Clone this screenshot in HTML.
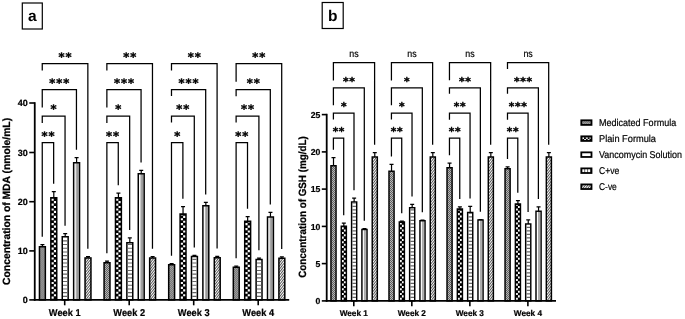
<!DOCTYPE html>
<html lang="en"><head><meta charset="utf-8"><title>Figure</title>
<style>html,body{margin:0;padding:0;background:#fff}svg{display:block;text-rendering:geometricPrecision}</style>
</head><body>
<svg width="685" height="319" viewBox="0 0 685 319">
<defs>
<pattern id="p1" width="2" height="2" patternUnits="userSpaceOnUse"><rect width="2" height="2" fill="#c4c4c4"/><rect width="1" height="1" fill="#505050"/><rect x="1" y="1" width="1" height="1" fill="#505050"/></pattern>
<pattern id="p2" x="0.55" width="4.7" height="4.9" patternUnits="userSpaceOnUse"><rect width="4.7" height="4.9" fill="#000"/><rect x="0.1" y="0.1" width="2.25" height="2.3" fill="#fff"/><rect x="2.45" y="2.55" width="2.25" height="2.3" fill="#fff"/></pattern>
<pattern id="p2b" x="0.7" width="3.9" height="4.7" patternUnits="userSpaceOnUse"><rect width="3.9" height="4.7" fill="#000"/><rect x="0.1" y="0.1" width="1.8" height="2.2" fill="#fff"/><rect x="2.05" y="2.45" width="1.8" height="2.2" fill="#fff"/></pattern>
<pattern id="p3" width="12" height="3.6" patternUnits="userSpaceOnUse"><rect width="12" height="3.6" fill="#fff"/><rect y="2.3" width="12" height="1.25" fill="#777"/></pattern>
<pattern id="p4a" width="40" height="8" patternUnits="userSpaceOnUse"><rect width="40" height="8" fill="#fff"/><rect x="2.3" width="2.8" height="8" fill="#999"/></pattern>
<pattern id="p4b" width="40" height="8" patternUnits="userSpaceOnUse"><rect width="40" height="8" fill="#fff"/><rect x="2" width="0.7" height="8" fill="#888"/><rect x="3.3" width="0.7" height="8" fill="#888"/></pattern>
<pattern id="p5" width="1.9" height="1.9" patternUnits="userSpaceOnUse" patternTransform="rotate(-52)"><rect width="1.9" height="1.9" fill="#fff"/><rect width="1.9" height="0.9" fill="#4a4a4a"/></pattern>
<pattern id="p2l" x="1.05" y="-4.5" width="3.6" height="3.4" patternUnits="userSpaceOnUse"><rect width="3.6" height="3.4" fill="#000"/><rect x="0.2" y="0" width="1.6" height="1.7" fill="#fff"/><rect x="2" y="1.7" width="1.6" height="1.7" fill="#fff"/></pattern>
<pattern id="p3l" width="20" height="10" patternUnits="userSpaceOnUse"><rect width="20" height="10" fill="#fff"/></pattern>
<pattern id="p4l" x="1.1" width="2.9" height="10" patternUnits="userSpaceOnUse"><rect width="2.9" height="10" fill="#fff"/><rect x="2.1" width="0.8" height="10" fill="#444"/></pattern>
</defs>
<rect width="685" height="319" fill="#fff"/>
<path d="M42.4 247V244.6M40.4 244.6H44.4" stroke="#000" stroke-width="1.2" fill="none"/>
<g transform="translate(39.45 299.9)"><rect x="0" y="-53.15" width="5.9" height="53.15" fill="url(#p1)" stroke="#000" stroke-width="1.5"/></g>
<path d="M53.8 198V191.6M51.8 191.6H55.8" stroke="#000" stroke-width="1.2" fill="none"/>
<rect x="50.85" y="197.75" width="5.9" height="102.15" fill="#000" stroke="#000" stroke-width="1.5"/>
<path d="M52.65 298.9V198.7" stroke="#fff" stroke-width="2.1" stroke-dasharray="2.15 2.75" stroke-dashoffset="-0.15" fill="none"/>
<path d="M54.95 298.9V198.7" stroke="#fff" stroke-width="2.1" stroke-dasharray="2.15 2.75" stroke-dashoffset="2.3" fill="none"/>
<path d="M65.2 237V233.6M63.2 233.6H67.2" stroke="#000" stroke-width="1.2" fill="none"/>
<rect x="62.25" y="236.75" width="5.9" height="63.15" fill="#fff" stroke="#000" stroke-width="1.5"/>
<path d="M65.2 298.9V237.5" stroke="#666" stroke-width="4.4" stroke-dasharray="1.1 2.6" stroke-dashoffset="-2" fill="none"/>
<path d="M76.6 163V157.6M74.6 157.6H78.6" stroke="#000" stroke-width="1.2" fill="none"/>
<g transform="translate(73.65 299.9)"><rect x="0" y="-137.15" width="5.9" height="137.15" fill="url(#p4a)" stroke="#000" stroke-width="1.5"/></g>
<path d="M88 258.2V256.6M86 256.6H90" stroke="#000" stroke-width="1.2" fill="none"/>
<g transform="translate(85.05 299.9)"><rect x="0" y="-41.95" width="5.9" height="41.95" fill="url(#p5)" stroke="#000" stroke-width="1.5"/></g>
<path d="M107.02 263V261.1M105.02 261.1H109.02" stroke="#000" stroke-width="1.2" fill="none"/>
<g transform="translate(104.07 299.9)"><rect x="0" y="-37.15" width="5.9" height="37.15" fill="url(#p1)" stroke="#000" stroke-width="1.5"/></g>
<path d="M118.42 198V193.1M116.42 193.1H120.42" stroke="#000" stroke-width="1.2" fill="none"/>
<rect x="115.47" y="197.75" width="5.9" height="102.15" fill="#000" stroke="#000" stroke-width="1.5"/>
<path d="M117.27 298.9V198.7" stroke="#fff" stroke-width="2.1" stroke-dasharray="2.15 2.75" stroke-dashoffset="-0.15" fill="none"/>
<path d="M119.57 298.9V198.7" stroke="#fff" stroke-width="2.1" stroke-dasharray="2.15 2.75" stroke-dashoffset="2.3" fill="none"/>
<path d="M129.82 243V237.85M127.82 237.85H131.82" stroke="#000" stroke-width="1.2" fill="none"/>
<rect x="126.87" y="242.75" width="5.9" height="57.15" fill="#fff" stroke="#000" stroke-width="1.5"/>
<path d="M129.82 298.9V243.5" stroke="#666" stroke-width="4.4" stroke-dasharray="1.1 2.6" stroke-dashoffset="-2" fill="none"/>
<path d="M141.22 174V170.35M139.22 170.35H143.22" stroke="#000" stroke-width="1.2" fill="none"/>
<g transform="translate(138.27 299.9)"><rect x="0" y="-126.15" width="5.9" height="126.15" fill="url(#p4a)" stroke="#000" stroke-width="1.5"/></g>
<path d="M152.62 258.25V256.6M150.62 256.6H154.62" stroke="#000" stroke-width="1.2" fill="none"/>
<g transform="translate(149.67 299.9)"><rect x="0" y="-41.9" width="5.9" height="41.9" fill="url(#p5)" stroke="#000" stroke-width="1.5"/></g>
<path d="M171.64 265V263.6M169.64 263.6H173.64" stroke="#000" stroke-width="1.2" fill="none"/>
<g transform="translate(168.69 299.9)"><rect x="0" y="-35.15" width="5.9" height="35.15" fill="url(#p1)" stroke="#000" stroke-width="1.5"/></g>
<path d="M183.04 214.25V206.6M181.04 206.6H185.04" stroke="#000" stroke-width="1.2" fill="none"/>
<rect x="180.09" y="214" width="5.9" height="85.9" fill="#000" stroke="#000" stroke-width="1.5"/>
<path d="M181.89 298.9V214.95" stroke="#fff" stroke-width="2.1" stroke-dasharray="2.15 2.75" stroke-dashoffset="-0.15" fill="none"/>
<path d="M184.19 298.9V214.95" stroke="#fff" stroke-width="2.1" stroke-dasharray="2.15 2.75" stroke-dashoffset="2.3" fill="none"/>
<path d="M194.44 256.75V255.35M192.44 255.35H196.44" stroke="#000" stroke-width="1.2" fill="none"/>
<rect x="191.49" y="256.5" width="5.9" height="43.4" fill="#fff" stroke="#000" stroke-width="1.5"/>
<path d="M194.44 298.9V257.25" stroke="#666" stroke-width="4.4" stroke-dasharray="1.1 2.6" stroke-dashoffset="-2" fill="none"/>
<path d="M205.84 206V202.35M203.84 202.35H207.84" stroke="#000" stroke-width="1.2" fill="none"/>
<g transform="translate(202.89 299.9)"><rect x="0" y="-94.15" width="5.9" height="94.15" fill="url(#p4a)" stroke="#000" stroke-width="1.5"/></g>
<path d="M217.24 258V256.35M215.24 256.35H219.24" stroke="#000" stroke-width="1.2" fill="none"/>
<g transform="translate(214.29 299.9)"><rect x="0" y="-42.15" width="5.9" height="42.15" fill="url(#p5)" stroke="#000" stroke-width="1.5"/></g>
<path d="M236.26 267.5V266.1M234.26 266.1H238.26" stroke="#000" stroke-width="1.2" fill="none"/>
<g transform="translate(233.31 299.9)"><rect x="0" y="-32.65" width="5.9" height="32.65" fill="url(#p1)" stroke="#000" stroke-width="1.5"/></g>
<path d="M247.66 221.5V216.6M245.66 216.6H249.66" stroke="#000" stroke-width="1.2" fill="none"/>
<rect x="244.71" y="221.25" width="5.9" height="78.65" fill="#000" stroke="#000" stroke-width="1.5"/>
<path d="M246.51 298.9V222.2" stroke="#fff" stroke-width="2.1" stroke-dasharray="2.15 2.75" stroke-dashoffset="-0.15" fill="none"/>
<path d="M248.81 298.9V222.2" stroke="#fff" stroke-width="2.1" stroke-dasharray="2.15 2.75" stroke-dashoffset="2.3" fill="none"/>
<path d="M259.06 259.75V258.1M257.06 258.1H261.06" stroke="#000" stroke-width="1.2" fill="none"/>
<rect x="256.11" y="259.5" width="5.9" height="40.4" fill="#fff" stroke="#000" stroke-width="1.5"/>
<path d="M259.06 298.9V260.25" stroke="#666" stroke-width="4.4" stroke-dasharray="1.1 2.6" stroke-dashoffset="-2" fill="none"/>
<path d="M270.46 217.25V212.35M268.46 212.35H272.46" stroke="#000" stroke-width="1.2" fill="none"/>
<g transform="translate(267.51 299.9)"><rect x="0" y="-82.9" width="5.9" height="82.9" fill="url(#p4a)" stroke="#000" stroke-width="1.5"/></g>
<path d="M281.86 258.5V256.8M279.86 256.8H283.86" stroke="#000" stroke-width="1.2" fill="none"/>
<g transform="translate(278.91 299.9)"><rect x="0" y="-41.65" width="5.9" height="41.65" fill="url(#p5)" stroke="#000" stroke-width="1.5"/></g>
<path d="M42.25 70.5V63.5H87.85V248.7" stroke="#000" stroke-width="1.25" fill="none"/>
<text x="65.52" y="60.6" text-anchor="middle" font-family="'DejaVu Sans', sans-serif" font-weight="bold" font-size="11.6" letter-spacing="0.95" stroke="#000" stroke-width="0.4">**</text>
<path d="M42.25 107.5V89.7H76.45V149.7" stroke="#000" stroke-width="1.25" fill="none"/>
<text x="59.83" y="86.8" text-anchor="middle" font-family="'DejaVu Sans', sans-serif" font-weight="bold" font-size="11.6" letter-spacing="0.95" stroke="#000" stroke-width="0.4">***</text>
<path d="M42.25 123V116.2H65.05V225.7" stroke="#000" stroke-width="1.25" fill="none"/>
<text x="54.12" y="113.3" text-anchor="middle" font-family="'DejaVu Sans', sans-serif" font-weight="bold" font-size="11.6" letter-spacing="0.95" stroke="#000" stroke-width="0.4">*</text>
<path d="M42.25 236.7V142.5H53.65V183.7" stroke="#000" stroke-width="1.25" fill="none"/>
<text x="48.43" y="139.6" text-anchor="middle" font-family="'DejaVu Sans', sans-serif" font-weight="bold" font-size="11.6" letter-spacing="0.95" stroke="#000" stroke-width="0.4">**</text>
<path d="M106.87 70.5V63.5H152.47V248.7" stroke="#000" stroke-width="1.25" fill="none"/>
<text x="130.15" y="60.6" text-anchor="middle" font-family="'DejaVu Sans', sans-serif" font-weight="bold" font-size="11.6" letter-spacing="0.95" stroke="#000" stroke-width="0.4">**</text>
<path d="M106.87 107.5V89.7H141.07V162.45" stroke="#000" stroke-width="1.25" fill="none"/>
<text x="124.44" y="86.8" text-anchor="middle" font-family="'DejaVu Sans', sans-serif" font-weight="bold" font-size="11.6" letter-spacing="0.95" stroke="#000" stroke-width="0.4">***</text>
<path d="M106.87 123V116.2H129.67V229.95" stroke="#000" stroke-width="1.25" fill="none"/>
<text x="118.75" y="113.3" text-anchor="middle" font-family="'DejaVu Sans', sans-serif" font-weight="bold" font-size="11.6" letter-spacing="0.95" stroke="#000" stroke-width="0.4">*</text>
<path d="M106.87 253.2V142.5H118.27V185.2" stroke="#000" stroke-width="1.25" fill="none"/>
<text x="113.05" y="139.6" text-anchor="middle" font-family="'DejaVu Sans', sans-serif" font-weight="bold" font-size="11.6" letter-spacing="0.95" stroke="#000" stroke-width="0.4">**</text>
<path d="M171.49 70.5V63.5H217.09V248.45" stroke="#000" stroke-width="1.25" fill="none"/>
<text x="194.77" y="60.6" text-anchor="middle" font-family="'DejaVu Sans', sans-serif" font-weight="bold" font-size="11.6" letter-spacing="0.95" stroke="#000" stroke-width="0.4">**</text>
<path d="M171.49 96V89.7H205.69V194.45" stroke="#000" stroke-width="1.25" fill="none"/>
<text x="189.06" y="86.8" text-anchor="middle" font-family="'DejaVu Sans', sans-serif" font-weight="bold" font-size="11.6" letter-spacing="0.95" stroke="#000" stroke-width="0.4">***</text>
<path d="M171.49 122.5V116.2H194.29V247.45" stroke="#000" stroke-width="1.25" fill="none"/>
<text x="183.37" y="113.3" text-anchor="middle" font-family="'DejaVu Sans', sans-serif" font-weight="bold" font-size="11.6" letter-spacing="0.95" stroke="#000" stroke-width="0.4">**</text>
<path d="M171.49 255.7V142.5H182.89V198.7" stroke="#000" stroke-width="1.25" fill="none"/>
<text x="177.66" y="139.6" text-anchor="middle" font-family="'DejaVu Sans', sans-serif" font-weight="bold" font-size="11.6" letter-spacing="0.95" stroke="#000" stroke-width="0.4">*</text>
<path d="M236.11 81.8V63.5H281.71V248.9" stroke="#000" stroke-width="1.25" fill="none"/>
<text x="259.39" y="60.6" text-anchor="middle" font-family="'DejaVu Sans', sans-serif" font-weight="bold" font-size="11.6" letter-spacing="0.95" stroke="#000" stroke-width="0.4">**</text>
<path d="M236.11 96.25V89.7H270.31V204.45" stroke="#000" stroke-width="1.25" fill="none"/>
<text x="253.69" y="86.8" text-anchor="middle" font-family="'DejaVu Sans', sans-serif" font-weight="bold" font-size="11.6" letter-spacing="0.95" stroke="#000" stroke-width="0.4">**</text>
<path d="M236.11 122.5V116.2H258.91V250.2" stroke="#000" stroke-width="1.25" fill="none"/>
<text x="247.99" y="113.3" text-anchor="middle" font-family="'DejaVu Sans', sans-serif" font-weight="bold" font-size="11.6" letter-spacing="0.95" stroke="#000" stroke-width="0.4">**</text>
<path d="M236.11 258.2V142.5H247.51V208.7" stroke="#000" stroke-width="1.25" fill="none"/>
<text x="242.28" y="139.6" text-anchor="middle" font-family="'DejaVu Sans', sans-serif" font-weight="bold" font-size="11.6" letter-spacing="0.95" stroke="#000" stroke-width="0.4">**</text>
<path d="M333.5 166V157.6M331.5 157.6H335.5" stroke="#000" stroke-width="1.2" fill="none"/>
<g transform="translate(330.95 300.9)"><rect x="0" y="-135.17" width="5.1" height="135.17" fill="url(#p1)" stroke="#000" stroke-width="1.45"/></g>
<path d="M343.82 226.5V223.1M341.82 223.1H345.82" stroke="#000" stroke-width="1.2" fill="none"/>
<rect x="341.27" y="226.22" width="5.1" height="74.67" fill="#000" stroke="#000" stroke-width="1.45"/>
<path d="M342.86 299.9V227.15" stroke="#fff" stroke-width="1.72" stroke-dasharray="2.05 2.65" stroke-dashoffset="-0.15" fill="none"/>
<path d="M344.78 299.9V227.15" stroke="#fff" stroke-width="1.72" stroke-dasharray="2.05 2.65" stroke-dashoffset="2.2" fill="none"/>
<path d="M354.14 202.25V198.1M352.14 198.1H356.14" stroke="#000" stroke-width="1.2" fill="none"/>
<rect x="351.59" y="201.97" width="5.1" height="98.92" fill="#fff" stroke="#000" stroke-width="1.45"/>
<path d="M354.14 299.9V202.7" stroke="#666" stroke-width="3.65" stroke-dasharray="1.1 2.4" stroke-dashoffset="-2" fill="none"/>
<path d="M364.46 229.75V228.6M362.46 228.6H366.46" stroke="#000" stroke-width="1.2" fill="none"/>
<g transform="translate(361.91 300.9)"><rect x="0" y="-71.42" width="5.1" height="71.42" fill="url(#p4b)" stroke="#000" stroke-width="1.45"/></g>
<path d="M374.78 157.25V152.6M372.78 152.6H376.78" stroke="#000" stroke-width="1.2" fill="none"/>
<g transform="translate(372.23 300.9)"><rect x="0" y="-143.92" width="5.1" height="143.92" fill="url(#p5)" stroke="#000" stroke-width="1.45"/></g>
<path d="M391.53 171.5V164.35M389.53 164.35H393.53" stroke="#000" stroke-width="1.2" fill="none"/>
<g transform="translate(388.98 300.9)"><rect x="0" y="-129.67" width="5.1" height="129.67" fill="url(#p1)" stroke="#000" stroke-width="1.45"/></g>
<path d="M401.85 222.25V221.1M399.85 221.1H403.85" stroke="#000" stroke-width="1.2" fill="none"/>
<rect x="399.3" y="221.97" width="5.1" height="78.92" fill="#000" stroke="#000" stroke-width="1.45"/>
<path d="M400.89 299.9V222.9" stroke="#fff" stroke-width="1.72" stroke-dasharray="2.05 2.65" stroke-dashoffset="-0.15" fill="none"/>
<path d="M402.81 299.9V222.9" stroke="#fff" stroke-width="1.72" stroke-dasharray="2.05 2.65" stroke-dashoffset="2.2" fill="none"/>
<path d="M412.17 208V204.35M410.17 204.35H414.17" stroke="#000" stroke-width="1.2" fill="none"/>
<rect x="409.62" y="207.72" width="5.1" height="93.17" fill="#fff" stroke="#000" stroke-width="1.45"/>
<path d="M412.17 299.9V208.45" stroke="#666" stroke-width="3.65" stroke-dasharray="1.1 2.4" stroke-dashoffset="-2" fill="none"/>
<path d="M422.49 221V220.1M420.49 220.1H424.49" stroke="#000" stroke-width="1.2" fill="none"/>
<g transform="translate(419.94 300.9)"><rect x="0" y="-80.17" width="5.1" height="80.17" fill="url(#p4b)" stroke="#000" stroke-width="1.45"/></g>
<path d="M432.81 157.25V152.6M430.81 152.6H434.81" stroke="#000" stroke-width="1.2" fill="none"/>
<g transform="translate(430.26 300.9)"><rect x="0" y="-143.92" width="5.1" height="143.92" fill="url(#p5)" stroke="#000" stroke-width="1.45"/></g>
<path d="M449.56 168V163.1M447.56 163.1H451.56" stroke="#000" stroke-width="1.2" fill="none"/>
<g transform="translate(447.01 300.9)"><rect x="0" y="-133.17" width="5.1" height="133.17" fill="url(#p1)" stroke="#000" stroke-width="1.45"/></g>
<path d="M459.88 209.25V206.85M457.88 206.85H461.88" stroke="#000" stroke-width="1.2" fill="none"/>
<rect x="457.33" y="208.97" width="5.1" height="91.92" fill="#000" stroke="#000" stroke-width="1.45"/>
<path d="M458.92 299.9V209.9" stroke="#fff" stroke-width="1.72" stroke-dasharray="2.05 2.65" stroke-dashoffset="-0.15" fill="none"/>
<path d="M460.84 299.9V209.9" stroke="#fff" stroke-width="1.72" stroke-dasharray="2.05 2.65" stroke-dashoffset="2.2" fill="none"/>
<path d="M470.2 212.75V206.35M468.2 206.35H472.2" stroke="#000" stroke-width="1.2" fill="none"/>
<rect x="467.65" y="212.47" width="5.1" height="88.42" fill="#fff" stroke="#000" stroke-width="1.45"/>
<path d="M470.2 299.9V213.2" stroke="#666" stroke-width="3.65" stroke-dasharray="1.1 2.4" stroke-dashoffset="-2" fill="none"/>
<path d="M480.52 220.25V219.6M478.52 219.6H482.52" stroke="#000" stroke-width="1.2" fill="none"/>
<g transform="translate(477.97 300.9)"><rect x="0" y="-80.92" width="5.1" height="80.92" fill="url(#p4b)" stroke="#000" stroke-width="1.45"/></g>
<path d="M490.84 157.25V152.6M488.84 152.6H492.84" stroke="#000" stroke-width="1.2" fill="none"/>
<g transform="translate(488.29 300.9)"><rect x="0" y="-143.92" width="5.1" height="143.92" fill="url(#p5)" stroke="#000" stroke-width="1.45"/></g>
<path d="M507.59 169V166.85M505.59 166.85H509.59" stroke="#000" stroke-width="1.2" fill="none"/>
<g transform="translate(505.04 300.9)"><rect x="0" y="-132.17" width="5.1" height="132.17" fill="url(#p1)" stroke="#000" stroke-width="1.45"/></g>
<path d="M517.91 204.25V200.6M515.91 200.6H519.91" stroke="#000" stroke-width="1.2" fill="none"/>
<rect x="515.36" y="203.97" width="5.1" height="96.92" fill="#000" stroke="#000" stroke-width="1.45"/>
<path d="M516.95 299.9V204.9" stroke="#fff" stroke-width="1.72" stroke-dasharray="2.05 2.65" stroke-dashoffset="-0.15" fill="none"/>
<path d="M518.87 299.9V204.9" stroke="#fff" stroke-width="1.72" stroke-dasharray="2.05 2.65" stroke-dashoffset="2.2" fill="none"/>
<path d="M528.23 224.25V219.85M526.23 219.85H530.23" stroke="#000" stroke-width="1.2" fill="none"/>
<rect x="525.68" y="223.97" width="5.1" height="76.92" fill="#fff" stroke="#000" stroke-width="1.45"/>
<path d="M528.23 299.9V224.7" stroke="#666" stroke-width="3.65" stroke-dasharray="1.1 2.4" stroke-dashoffset="-2" fill="none"/>
<path d="M538.55 211.5V206.85M536.55 206.85H540.55" stroke="#000" stroke-width="1.2" fill="none"/>
<g transform="translate(536 300.9)"><rect x="0" y="-89.67" width="5.1" height="89.67" fill="url(#p4b)" stroke="#000" stroke-width="1.45"/></g>
<path d="M548.87 157.25V152.6M546.87 152.6H550.87" stroke="#000" stroke-width="1.2" fill="none"/>
<g transform="translate(546.32 300.9)"><rect x="0" y="-143.92" width="5.1" height="143.92" fill="url(#p5)" stroke="#000" stroke-width="1.45"/></g>
<path d="M333.4 80.4V62.7H374.6V144.7" stroke="#000" stroke-width="1.25" fill="none"/>
<text x="354" y="56.6" text-anchor="middle" font-family="'Liberation Sans', Arial, sans-serif" font-size="9.9" textLength="9.4" lengthAdjust="spacingAndGlyphs" stroke="#000" stroke-width="0.2">ns</text>
<path d="M333.4 105.25V87.8H364.3V220.7" stroke="#000" stroke-width="1.25" fill="none"/>
<text x="349.17" y="84.8" text-anchor="middle" font-family="'DejaVu Sans', sans-serif" font-weight="bold" font-size="10.7" letter-spacing="0.65" stroke="#000" stroke-width="0.4">**</text>
<path d="M333.4 119.6V113H354V190.2" stroke="#000" stroke-width="1.25" fill="none"/>
<text x="344.02" y="110" text-anchor="middle" font-family="'DejaVu Sans', sans-serif" font-weight="bold" font-size="10.7" letter-spacing="0.65" stroke="#000" stroke-width="0.4">*</text>
<path d="M333.4 149.7V138.1H343.7V215.2" stroke="#000" stroke-width="1.25" fill="none"/>
<text x="338.87" y="135.1" text-anchor="middle" font-family="'DejaVu Sans', sans-serif" font-weight="bold" font-size="10.7" letter-spacing="0.65" stroke="#000" stroke-width="0.4">**</text>
<path d="M391.43 80.4V62.7H432.63V144.7" stroke="#000" stroke-width="1.25" fill="none"/>
<text x="412.03" y="56.6" text-anchor="middle" font-family="'Liberation Sans', Arial, sans-serif" font-size="9.9" textLength="9.4" lengthAdjust="spacingAndGlyphs" stroke="#000" stroke-width="0.2">ns</text>
<path d="M391.43 105.25V87.8H422.33V212.2" stroke="#000" stroke-width="1.25" fill="none"/>
<text x="407.2" y="84.8" text-anchor="middle" font-family="'DejaVu Sans', sans-serif" font-weight="bold" font-size="10.7" letter-spacing="0.65" stroke="#000" stroke-width="0.4">*</text>
<path d="M391.43 119.6V113H412.03V196.45" stroke="#000" stroke-width="1.25" fill="none"/>
<text x="402.05" y="110" text-anchor="middle" font-family="'DejaVu Sans', sans-serif" font-weight="bold" font-size="10.7" letter-spacing="0.65" stroke="#000" stroke-width="0.4">*</text>
<path d="M391.43 156.45V138.1H401.73V213.2" stroke="#000" stroke-width="1.25" fill="none"/>
<text x="396.9" y="135.1" text-anchor="middle" font-family="'DejaVu Sans', sans-serif" font-weight="bold" font-size="10.7" letter-spacing="0.65" stroke="#000" stroke-width="0.4">**</text>
<path d="M449.46 80.2V62.7H490.66V144.7" stroke="#000" stroke-width="1.25" fill="none"/>
<text x="470.06" y="56.6" text-anchor="middle" font-family="'Liberation Sans', Arial, sans-serif" font-size="9.9" textLength="9.4" lengthAdjust="spacingAndGlyphs" stroke="#000" stroke-width="0.2">ns</text>
<path d="M449.46 93.75V87.8H480.36V211.7" stroke="#000" stroke-width="1.25" fill="none"/>
<text x="465.23" y="84.8" text-anchor="middle" font-family="'DejaVu Sans', sans-serif" font-weight="bold" font-size="10.7" letter-spacing="0.65" stroke="#000" stroke-width="0.4">**</text>
<path d="M449.46 119.8V113H470.06V198.45" stroke="#000" stroke-width="1.25" fill="none"/>
<text x="460.08" y="110" text-anchor="middle" font-family="'DejaVu Sans', sans-serif" font-weight="bold" font-size="10.7" letter-spacing="0.65" stroke="#000" stroke-width="0.4">**</text>
<path d="M449.46 155.2V138.1H459.76V198.95" stroke="#000" stroke-width="1.25" fill="none"/>
<text x="454.94" y="135.1" text-anchor="middle" font-family="'DejaVu Sans', sans-serif" font-weight="bold" font-size="10.7" letter-spacing="0.65" stroke="#000" stroke-width="0.4">**</text>
<path d="M507.49 68.9V62.7H548.69V144.7" stroke="#000" stroke-width="1.25" fill="none"/>
<text x="528.09" y="56.6" text-anchor="middle" font-family="'Liberation Sans', Arial, sans-serif" font-size="9.9" textLength="9.4" lengthAdjust="spacingAndGlyphs" stroke="#000" stroke-width="0.2">ns</text>
<path d="M507.49 93.75V87.8H538.39V198.95" stroke="#000" stroke-width="1.25" fill="none"/>
<text x="523.27" y="84.8" text-anchor="middle" font-family="'DejaVu Sans', sans-serif" font-weight="bold" font-size="10.7" letter-spacing="0.65" stroke="#000" stroke-width="0.4">***</text>
<path d="M507.49 119.8V113H528.09V211.95" stroke="#000" stroke-width="1.25" fill="none"/>
<text x="518.12" y="110" text-anchor="middle" font-family="'DejaVu Sans', sans-serif" font-weight="bold" font-size="10.7" letter-spacing="0.65" stroke="#000" stroke-width="0.4">***</text>
<path d="M507.49 158.95V138.1H517.79V192.7" stroke="#000" stroke-width="1.25" fill="none"/>
<text x="512.97" y="135.1" text-anchor="middle" font-family="'DejaVu Sans', sans-serif" font-weight="bold" font-size="10.7" letter-spacing="0.65" stroke="#000" stroke-width="0.4">**</text>
<path d="M34.75 102.2V300.75" stroke="#000" stroke-width="1.8" fill="none"/>
<path d="M33.85 299.9H289.2" stroke="#000" stroke-width="1.7" fill="none"/>
<path d="M29.25 103H34.75" stroke="#000" stroke-width="1.6"/>
<text x="27.75" y="106.15" text-anchor="end" font-family="'Liberation Sans', Arial, sans-serif" font-weight="bold" font-size="9.0" stroke="#000" stroke-width="0.2">40</text>
<path d="M29.25 152.5H34.75" stroke="#000" stroke-width="1.6"/>
<text x="27.75" y="155.65" text-anchor="end" font-family="'Liberation Sans', Arial, sans-serif" font-weight="bold" font-size="9.0" stroke="#000" stroke-width="0.2">30</text>
<path d="M29.25 201.7H34.75" stroke="#000" stroke-width="1.6"/>
<text x="27.75" y="204.85" text-anchor="end" font-family="'Liberation Sans', Arial, sans-serif" font-weight="bold" font-size="9.0" stroke="#000" stroke-width="0.2">20</text>
<path d="M29.25 250.9H34.75" stroke="#000" stroke-width="1.6"/>
<text x="27.75" y="254.05" text-anchor="end" font-family="'Liberation Sans', Arial, sans-serif" font-weight="bold" font-size="9.0" stroke="#000" stroke-width="0.2">10</text>
<path d="M29.25 299.9H34.75" stroke="#000" stroke-width="1.6"/>
<text x="27.75" y="303.05" text-anchor="end" font-family="'Liberation Sans', Arial, sans-serif" font-weight="bold" font-size="9.0" stroke="#000" stroke-width="0.2">0</text>
<path d="M64.7 299.9V305.3" stroke="#000" stroke-width="1.6"/>
<text x="64.7" y="316" text-anchor="middle" font-family="'Liberation Sans', Arial, sans-serif" font-weight="bold" font-size="9.9" textLength="31.7" lengthAdjust="spacingAndGlyphs" stroke="#000" stroke-width="0.2">Week 1</text>
<path d="M129.2 299.9V305.3" stroke="#000" stroke-width="1.6"/>
<text x="129.2" y="316" text-anchor="middle" font-family="'Liberation Sans', Arial, sans-serif" font-weight="bold" font-size="9.9" textLength="31.7" lengthAdjust="spacingAndGlyphs" stroke="#000" stroke-width="0.2">Week 2</text>
<path d="M193.7 299.9V305.3" stroke="#000" stroke-width="1.6"/>
<text x="193.7" y="316" text-anchor="middle" font-family="'Liberation Sans', Arial, sans-serif" font-weight="bold" font-size="9.9" textLength="31.7" lengthAdjust="spacingAndGlyphs" stroke="#000" stroke-width="0.2">Week 3</text>
<path d="M258.2 299.9V305.3" stroke="#000" stroke-width="1.6"/>
<text x="258.2" y="316" text-anchor="middle" font-family="'Liberation Sans', Arial, sans-serif" font-weight="bold" font-size="9.9" textLength="31.7" lengthAdjust="spacingAndGlyphs" stroke="#000" stroke-width="0.2">Week 4</text>
<text transform="translate(10.3 201.4) rotate(-90)" text-anchor="middle" textLength="167" lengthAdjust="spacingAndGlyphs" font-family="'Liberation Sans', Arial, sans-serif" font-weight="bold" font-size="10.5" stroke="#000" stroke-width="0.25">Concentration of MDA (nmole/mL)</text>
<path d="M326.7 113.8V301.75" stroke="#000" stroke-width="1.8" fill="none"/>
<path d="M325.8 300.9H556" stroke="#000" stroke-width="1.7" fill="none"/>
<path d="M321.8 114.6H326.7" stroke="#000" stroke-width="1.6"/>
<text x="320.4" y="117.75" text-anchor="end" font-family="'Liberation Sans', Arial, sans-serif" font-weight="bold" font-size="8.7" stroke="#000" stroke-width="0.2">25</text>
<path d="M321.8 151.9H326.7" stroke="#000" stroke-width="1.6"/>
<text x="320.4" y="155.05" text-anchor="end" font-family="'Liberation Sans', Arial, sans-serif" font-weight="bold" font-size="8.7" stroke="#000" stroke-width="0.2">20</text>
<path d="M321.8 189.1H326.7" stroke="#000" stroke-width="1.6"/>
<text x="320.4" y="192.25" text-anchor="end" font-family="'Liberation Sans', Arial, sans-serif" font-weight="bold" font-size="8.7" stroke="#000" stroke-width="0.2">15</text>
<path d="M321.8 226.4H326.7" stroke="#000" stroke-width="1.6"/>
<text x="320.4" y="229.55" text-anchor="end" font-family="'Liberation Sans', Arial, sans-serif" font-weight="bold" font-size="8.7" stroke="#000" stroke-width="0.2">10</text>
<path d="M321.8 263.6H326.7" stroke="#000" stroke-width="1.6"/>
<text x="320.4" y="266.75" text-anchor="end" font-family="'Liberation Sans', Arial, sans-serif" font-weight="bold" font-size="8.7" stroke="#000" stroke-width="0.2">5</text>
<path d="M321.8 300.9H326.7" stroke="#000" stroke-width="1.6"/>
<text x="320.4" y="304.05" text-anchor="end" font-family="'Liberation Sans', Arial, sans-serif" font-weight="bold" font-size="8.7" stroke="#000" stroke-width="0.2">0</text>
<path d="M353.8 300.9V306.3" stroke="#000" stroke-width="1.6"/>
<text x="353.8" y="316" text-anchor="middle" font-family="'Liberation Sans', Arial, sans-serif" font-weight="bold" font-size="8.4" textLength="28.2" lengthAdjust="spacingAndGlyphs" stroke="#000" stroke-width="0.2">Week 1</text>
<path d="M411.83 300.9V306.3" stroke="#000" stroke-width="1.6"/>
<text x="411.83" y="316" text-anchor="middle" font-family="'Liberation Sans', Arial, sans-serif" font-weight="bold" font-size="8.4" textLength="28.2" lengthAdjust="spacingAndGlyphs" stroke="#000" stroke-width="0.2">Week 2</text>
<path d="M469.86 300.9V306.3" stroke="#000" stroke-width="1.6"/>
<text x="469.86" y="316" text-anchor="middle" font-family="'Liberation Sans', Arial, sans-serif" font-weight="bold" font-size="8.4" textLength="28.2" lengthAdjust="spacingAndGlyphs" stroke="#000" stroke-width="0.2">Week 3</text>
<path d="M527.89 300.9V306.3" stroke="#000" stroke-width="1.6"/>
<text x="527.89" y="316" text-anchor="middle" font-family="'Liberation Sans', Arial, sans-serif" font-weight="bold" font-size="8.4" textLength="28.2" lengthAdjust="spacingAndGlyphs" stroke="#000" stroke-width="0.2">Week 4</text>
<text transform="translate(306.3 207) rotate(-90)" text-anchor="middle" textLength="141.5" lengthAdjust="spacingAndGlyphs" font-family="'Liberation Sans', Arial, sans-serif" font-weight="bold" font-size="10.5" stroke="#000" stroke-width="0.25">Concentration of GSH (mg/dL)</text>
<rect x="22.3" y="3" width="20" height="26" fill="#fff" stroke="#000" stroke-width="1.2"/>
<text x="32.3" y="21" text-anchor="middle" font-family="'Liberation Sans', Arial, sans-serif" font-weight="bold" font-size="15.5">a</text>
<rect x="322.2" y="2.5" width="21" height="26" fill="#fff" stroke="#000" stroke-width="1.2"/>
<text x="332.7" y="20.5" text-anchor="middle" font-family="'Liberation Sans', Arial, sans-serif" font-weight="bold" font-size="15.5">b</text>
<g transform="translate(581.2 125.7)"><rect x="0.1" y="-5.4" width="10.2" height="4.6" fill="url(#p1)" stroke="#000" stroke-width="1.8"/></g>
<text x="599" y="126" textLength="77.2" lengthAdjust="spacingAndGlyphs" font-family="'Liberation Sans', Arial, sans-serif" font-size="9.9" stroke="#000" stroke-width="0.2">Medicated Formula</text>
<g transform="translate(581.2 141.73)"><rect x="0.1" y="-5.4" width="10.2" height="4.6" fill="url(#p2l)" stroke="#000" stroke-width="1.8"/></g>
<text x="599" y="142.03" textLength="57" lengthAdjust="spacingAndGlyphs" font-family="'Liberation Sans', Arial, sans-serif" font-size="9.9" stroke="#000" stroke-width="0.2">Plain Formula</text>
<g transform="translate(581.2 157.76)"><rect x="0.1" y="-5.4" width="10.2" height="4.6" fill="url(#p3l)" stroke="#000" stroke-width="1.8"/></g>
<text x="599" y="158.06" textLength="83" lengthAdjust="spacingAndGlyphs" font-family="'Liberation Sans', Arial, sans-serif" font-size="9.9" stroke="#000" stroke-width="0.2">Vancomycin Solution</text>
<g transform="translate(581.2 173.79)"><rect x="0.1" y="-5.4" width="10.2" height="4.6" fill="url(#p4l)" stroke="#000" stroke-width="1.8"/></g>
<text x="599" y="174.09" textLength="20.3" lengthAdjust="spacingAndGlyphs" font-family="'Liberation Sans', Arial, sans-serif" font-size="9.9" stroke="#000" stroke-width="0.2">C+ve</text>
<g transform="translate(581.2 189.82)"><rect x="0.1" y="-5.4" width="10.2" height="4.6" fill="url(#p5)" stroke="#000" stroke-width="1.8"/></g>
<text x="599" y="190.12" textLength="17.8" lengthAdjust="spacingAndGlyphs" font-family="'Liberation Sans', Arial, sans-serif" font-size="9.9" stroke="#000" stroke-width="0.2">C-ve</text>
</svg>
</body></html>
